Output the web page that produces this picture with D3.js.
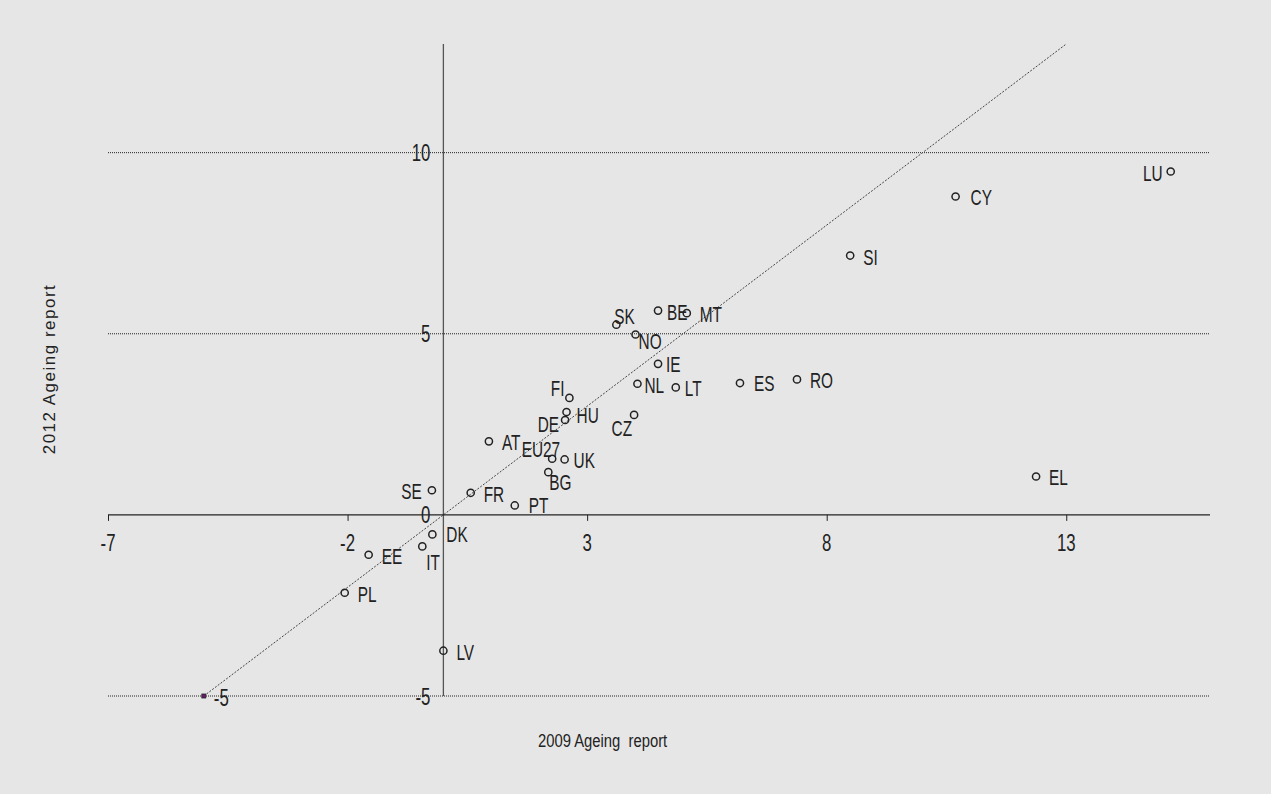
<!DOCTYPE html>
<html>
<head>
<meta charset="utf-8">
<script src="https://cdn.jsdelivr.net/npm/d3@7"></script>
<style>
  html, body { margin: 0; padding: 0; background: #e6e6e6; }
  svg { display: block; }
  text { font-family: "Liberation Sans", Arial, sans-serif; fill: #222; }
</style>
</head>
<body>
<svg id="chart" width="1271" height="794"></svg>
<script>
"use strict";

// values (2009 report on x, 2012 report on y)
const countries = ["BE", "BG", "CZ", "DK", "DE", "EE", "IE", "EL", "ES", "FR",
  "IT", "CY", "LV", "LT", "LU", "HU", "MT", "NL", "AT", "PL",
  "PT", "RO", "SI", "SK", "FI", "SE", "UK", "NO", "EU27"];
const report2009 = [4.48, 2.19, 3.98, -0.23, 2.54, -1.56, 4.48, 12.37, 6.19, 0.57,
  -0.44, 10.69, 0.0, 4.85, 15.18, 2.57, 5.08, 4.05, 0.95, -2.06,
  1.49, 7.38, 8.49, 3.61, 2.63, -0.24, 2.53, 4.01, 2.27];
const report2012 = [5.64, 1.18, 2.76, -0.54, 2.62, -1.10, 4.17, 1.06, 3.64, 0.61,
  -0.87, 8.79, -3.75, 3.52, 9.48, 2.84, 5.57, 3.62, 2.03, -2.15,
  0.26, 3.74, 7.16, 5.25, 3.23, 0.68, 1.53, 4.98, 1.55];

const xTicks = [-7, -2, 3, 8, 13];
const yTicks = [-5, 0, 5, 10];
const gridValues = [-5, 5, 10];
const diagonal = [-5, 13];

// where each label sits next to its marker: [anchor, dx, dy]
const labelDefault = ["start", 13, 9];
const labelPlace = {
  SK: ["start", -2, -1],
  BE: ["start", 9, 9],
  NO: ["start", 3, 14],
  IE: ["start", 8, 8],
  NL: ["start", 7, 9],
  LT: ["start", 9, 9],
  FI: ["end", -5, -2],
  HU: ["start", 10, 11],
  DE: ["end", -6, 12],
  CZ: ["end", -2, 21],
  EU27: ["end", 8, -2],
  UK: ["start", 9, 9],
  BG: ["start", 1, 18],
  SE: ["end", -10, 9],
  IT: ["start", 4, 24],
  LU: ["end", -8, 9],
  CY: ["start", 15, 9],
  DK: ["start", 14, 8],
  PT: ["start", 14, 8],
  ES: ["start", 14, 8],
};

const points = countries.map((c, i) => ({ name: c, x: report2009[i], y: report2012[i] }));

const svg = d3.select("#chart");

const x = d3.scaleLinear().domain([-7, 16]).range([108, 1210]);
const y = d3.scaleLinear().domain([-5, 13]).range([696, 44]);

// the original uses a squeezed font, so text gets a horizontal squash
const squeeze = 0.7;
function narrowText(g, px, py, str, size, anchor) {
  return g.append("text")
    .attr("transform", `translate(${px},${py}) scale(${squeeze},1)`)
    .attr("font-size", size)
    .attr("text-anchor", anchor || "start")
    .text(str);
}

// dotted horizontal reference lines
svg.append("g")
  .selectAll("line")
  .data(gridValues)
  .enter()
  .append("line")
  .attr("x1", x(-7))
  .attr("x2", x(16))
  .attr("y1", (d) => y(d))
  .attr("y2", (d) => y(d))
  .attr("stroke", "#222")
  .attr("stroke-width", 1)
  .attr("stroke-dasharray", "1,1");

// 45 degree line
svg.append("line")
  .attr("x1", x(diagonal[0]))
  .attr("y1", y(diagonal[0]))
  .attr("x2", x(diagonal[1]))
  .attr("y2", y(diagonal[1]))
  .attr("stroke", "#444")
  .attr("stroke-width", 1)
  .attr("stroke-dasharray", "2,1.5");

// vertical axis line at x = 0
svg.append("line")
  .attr("x1", x(0))
  .attr("x2", x(0))
  .attr("y1", y(13))
  .attr("y2", y(-5))
  .attr("stroke", "#555")
  .attr("stroke-width", 1.3);

// x axis along y = 0 (labels drawn by hand below)
const xAxis = svg.append("g")
  .attr("transform", `translate(0,${y(0)})`)
  .call(d3.axisBottom(x).tickValues(xTicks).tickSize(6).tickSizeOuter(0).tickFormat(""));
xAxis.select(".domain").attr("stroke", "#222").attr("stroke-width", 1.3)
  .attr("d", `M${x(-7)},0H${x(16)}`);
xAxis.selectAll(".tick line").attr("stroke", "#222").attr("stroke-width", 1);

const tickLabels = svg.append("g");
xTicks.forEach((t) => narrowText(tickLabels, x(t), y(0) + 36, String(t), 24, "middle"));
yTicks.forEach((t) => narrowText(tickLabels, x(0) - 13, y(t) + 8.5, String(t), 24, "end"));

// markers
svg.append("g")
  .selectAll("circle")
  .data(points)
  .enter()
  .append("circle")
  .attr("cx", (d) => x(d.x))
  .attr("cy", (d) => y(d.y))
  .attr("r", 3.6)
  .attr("fill", "none")
  .attr("stroke", "#222")
  .attr("stroke-width", 1.5);

const labels = svg.append("g");
points.forEach((d) => {
  const p = labelPlace[d.name] || labelDefault;
  narrowText(labels, x(d.x) + p[1], y(d.y) + p[2], d.name, 22, p[0]);
});

// start of the diagonal is marked
svg.append("rect")
  .attr("x", x(diagonal[0]) - 2)
  .attr("y", y(diagonal[0]) - 2)
  .attr("width", 4)
  .attr("height", 4)
  .attr("fill", "#6a1a6a")
  .attr("stroke", "#222")
  .attr("stroke-width", 0.8);
narrowText(svg, x(diagonal[0]) + 10, y(diagonal[0]) + 10, String(diagonal[0]), 24);

// axis titles
svg.append("text")
  .attr("transform", "translate(538,747) scale(0.78,1)")
  .attr("font-size", 19)
  .text("2009 Ageing  report")
  .style("white-space", "pre");

svg.append("text")
  .attr("font-size", 17)
  .attr("letter-spacing", 1.5)
  .attr("text-anchor", "middle")
  .attr("transform", "translate(55,369) rotate(-90)")
  .text("2012 Ageing report");
</script>
</body>
</html>
